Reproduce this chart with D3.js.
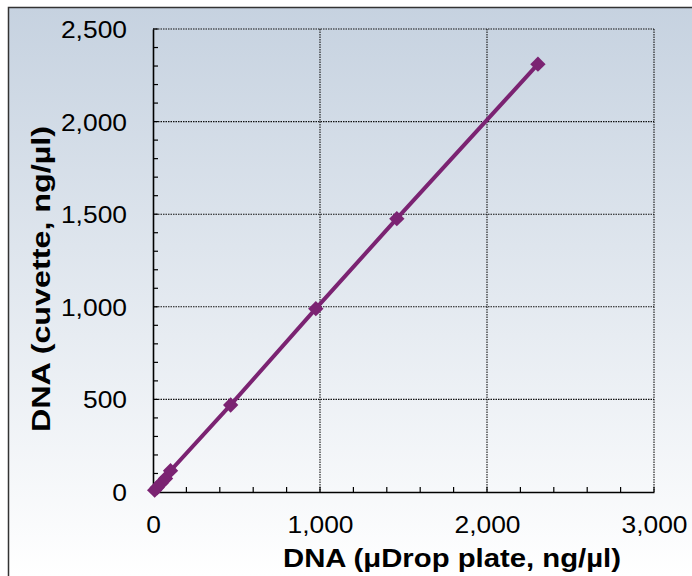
<!DOCTYPE html>
<html>
<head>
<meta charset="utf-8">
<script src="https://cdn.jsdelivr.net/npm/d3@7"></script>
<style>
  html, body { margin: 0; padding: 0; background: #fff; }
  svg { display: block; font-family: "Liberation Sans", Arial, sans-serif; }
</style>
</head>
<body>
<svg id="chart" width="692" height="576"></svg>
<script>
// Data
const xPlate   = [10, 25, 48, 75, 105, 465, 975, 1460, 2305];
const yCuvette = [10, 24, 47, 73, 115, 470, 990, 1476, 2310];
const xTicks = [0, 1000, 2000, 3000];
const yTicks = [0, 500, 1000, 1500, 2000, 2500];
const xTitle = "DNA (\u03bcDrop plate, ng/\u00b5l)";
const yTitle = "DNA (cuvette, ng/\u00b5l)";

const svg = d3.select("#chart");
const W = 692, H = 576;
const m = { left: 153, top: 29, right: 654, bottom: 492 };

const defs = svg.append("defs");
const grad = defs.append("linearGradient").attr("id", "bg")
  .attr("x1", 0).attr("y1", 0).attr("x2", 0).attr("y2", 1);
grad.append("stop").attr("offset", "0%").attr("stop-color", "#c6d2e0");
grad.append("stop").attr("offset", "100%").attr("stop-color", "#ffffff");

// figure background + border
svg.append("rect").attr("x", 8).attr("y", 7).attr("width", W - 8).attr("height", H - 7)
  .attr("fill", "url(#bg)");
svg.append("path").attr("d", `M8.5,${H} V7.5 H${W}`)
  .attr("fill", "none").attr("stroke", "#333").attr("stroke-width", 1.5);

const x = d3.scaleLinear().domain([0, 3000]).range([m.left, m.right]);
const y = d3.scaleLinear().domain([0, 2500]).range([m.bottom, m.top]);

// gridlines (dotted)
const grid = svg.append("g");
grid.selectAll(".gx").data(xTicks.slice(1)).join("line")
  .attr("x1", d => x(d)).attr("x2", d => x(d))
  .attr("y1", m.top).attr("y2", m.bottom)
  .attr("stroke", "#111").attr("stroke-width", 1.1).attr("stroke-dasharray", "1.5,1");
grid.selectAll(".gy").data(yTicks.slice(1)).join("line")
  .attr("y1", d => y(d)).attr("y2", d => y(d))
  .attr("x1", m.left).attr("x2", m.right)
  .attr("stroke", "#111").attr("stroke-width", 1.1).attr("stroke-dasharray", "1.5,1");

// minor ticks (inside)
const xMinor = d3.range(0, 3001, 200);
const yMinor = d3.range(0, 2501, 100);
svg.append("g").selectAll("line").data(xMinor).join("line")
  .attr("x1", d => x(d)).attr("x2", d => x(d))
  .attr("y1", m.bottom).attr("y2", m.bottom - 5)
  .attr("stroke", "#000").attr("stroke-width", 1.2);
svg.append("g").selectAll("line").data(yMinor).join("line")
  .attr("y1", d => y(d)).attr("y2", d => y(d))
  .attr("x1", m.left).attr("x2", m.left + 5)
  .attr("stroke", "#000").attr("stroke-width", 1.2);

// axes
const xAxis = d3.axisBottom(x).tickValues(xTicks).tickSize(0).tickPadding(0)
  .tickFormat(d3.format(","));
const yAxis = d3.axisLeft(y).tickValues(yTicks).tickSize(0).tickPadding(0)
  .tickFormat(d3.format(","));

const gx = svg.append("g").attr("transform", `translate(0,${m.bottom})`).call(xAxis);
gx.select(".domain").attr("stroke", "#000").attr("stroke-width", 1.6);
gx.selectAll("text").attr("font-size", 24).attr("fill", "#000")
  .attr("font-family", "Liberation Sans, Arial, sans-serif")
  .attr("dy", 0).attr("y", 41)
  .each(function () { const l = this.getComputedTextLength(); d3.select(this).attr("textLength", l * 1.1).attr("lengthAdjust", "spacingAndGlyphs"); });

const gy = svg.append("g").attr("transform", `translate(${m.left},0)`).call(yAxis);
gy.select(".domain").attr("stroke", "#000").attr("stroke-width", 1.6);
gy.selectAll("text").attr("font-size", 24).attr("fill", "#000")
  .attr("font-family", "Liberation Sans, Arial, sans-serif")
  .attr("x", -26).attr("dy", "0.35em")
  .each(function () { const l = this.getComputedTextLength(); d3.select(this).attr("textLength", l * 1.1).attr("lengthAdjust", "spacingAndGlyphs"); });

// series line + markers
const pts = xPlate.map((v, i) => [v, yCuvette[i]]);
svg.append("path").datum(pts)
  .attr("d", d3.line().x(d => x(d[0])).y(d => y(d[1])))
  .attr("fill", "none").attr("stroke", "#7b2372").attr("stroke-width", 4);
svg.append("g").selectAll("path").data(pts).join("path")
  .attr("transform", d => `translate(${x(d[0])},${y(d[1])})`)
  .attr("d", d3.symbol().type(d3.symbolDiamond2).size(150))
  .attr("fill", "#7b2372");

// axis titles
svg.append("text").attr("x", 452).attr("y", 567).attr("text-anchor", "middle")
  .attr("font-size", 26).attr("font-weight", "bold").attr("fill", "#000")
  .attr("textLength", 338).attr("lengthAdjust", "spacingAndGlyphs")
  .text(xTitle);
svg.append("text").attr("transform", "translate(49.5,279) rotate(-90)")
  .attr("text-anchor", "middle")
  .attr("font-size", 26).attr("font-weight", "bold").attr("fill", "#000")
  .attr("textLength", 306).attr("lengthAdjust", "spacingAndGlyphs")
  .text(yTitle);
</script>
</body>
</html>
